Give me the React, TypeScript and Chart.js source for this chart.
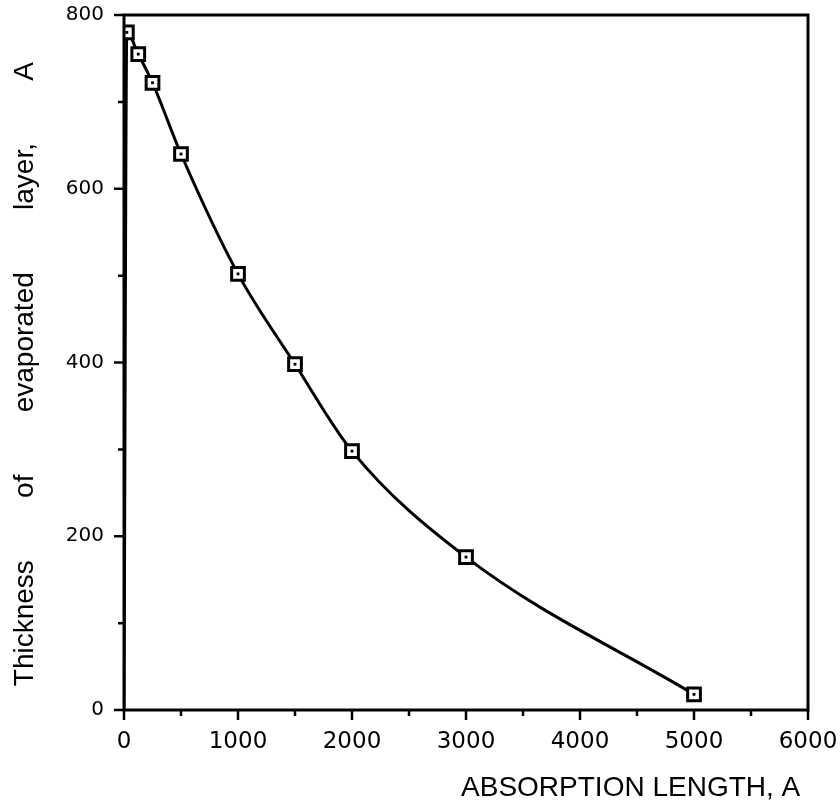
import { useEffect, useRef } from "react";
import { Chart, registerables } from "chart.js";

Chart.register(...registerables);

// Measured curve: evaporated layer thickness vs. absorption length (both in Å)
const absorptionLength = [0, 25, 125, 250, 500, 1000, 1500, 2000, 3000, 5000];
const layerThickness = [0, 780, 755, 722, 640, 502, 398, 298, 176, 18];

// Axis ranges and tick spacing
const xRange = [0, 6000];
const yRange = [0, 800];
const xMajorStep = 1000;
const xMinorStep = 500;
const yMajorStep = 200;
const yMinorStep = 100;

const xTitle = "ABSORPTION LENGTH, A ";
const yTitle = "Thickness        of        evaporated        layer,        A   ";

const W = 840;
const H = 809;

// Frame around the plot area plus outward major/minor tick marks
const framePlugin = {
  id: "frameTicks",
  afterDraw(chart: any) {
    const { ctx, chartArea, scales } = chart;
    const { left, right, top, bottom } = chartArea;
    ctx.save();
    ctx.strokeStyle = "#000";
    ctx.lineWidth = 3;
    ctx.strokeRect(left, top, right - left, bottom - top);
    ctx.lineWidth = 2.5;
    ctx.beginPath();
    for (let v = xRange[0]; v <= xRange[1]; v += xMinorStep) {
      const px = scales.x.getPixelForValue(v);
      const len = v % xMajorStep === 0 ? 10 : 6;
      ctx.moveTo(px, bottom);
      ctx.lineTo(px, bottom + len);
    }
    for (let v = yRange[0]; v <= yRange[1]; v += yMinorStep) {
      const py = scales.y.getPixelForValue(v);
      const len = v % yMajorStep === 0 ? 10 : 6;
      ctx.moveTo(left, py);
      ctx.lineTo(left - len, py);
    }
    ctx.stroke();
    ctx.restore();
  },
};

export default function App() {
  const canvasRef = useRef<HTMLCanvasElement | null>(null);

  useEffect(() => {
    const canvas = canvasRef.current;
    if (!canvas) return;
    const points = absorptionLength.map((x, i) => ({ x, y: layerThickness[i] }));
    const markerRadius = (r: number) => (c: any) => (c.dataIndex === 0 ? 0 : r);

    const chart = new Chart(canvas, {
      type: "line",
      data: {
        datasets: [
          {
            // small dark mark inside each square marker
            data: points,
            showLine: false,
            order: 0,
            pointStyle: "rect",
            pointRadius: markerRadius(2),
            pointHoverRadius: markerRadius(2),
            pointBackgroundColor: "#000",
            pointBorderWidth: 0,
          },
          {
            data: points,
            order: 1,
            borderColor: "#000",
            borderWidth: 3,
            cubicInterpolationMode: "monotone",
            pointStyle: "rect",
            pointRadius: markerRadius(9),
            pointHoverRadius: markerRadius(9),
            pointBackgroundColor: "#fff",
            pointBorderColor: "#000",
            pointBorderWidth: 3,
          },
        ],
      },
      options: {
        responsive: false,
        animation: false,
        events: [],
        layout: { padding: { top: 15, right: 32, left: 0, bottom: 0 } },
        plugins: {
          legend: { display: false },
          tooltip: { enabled: false },
        },
        scales: {
          x: {
            type: "linear",
            min: xRange[0],
            max: xRange[1],
            border: { display: false },
            grid: { display: false, drawTicks: true, tickLength: 10 },
            ticks: {
              stepSize: xMajorStep,
              padding: 8,
              color: "#000",
              maxRotation: 0,
              autoSkip: false,
              callback: (v: any) => String(v),
              font: { family: "'DejaVu Sans', sans-serif", size: 23 },
            },
            title: {
              display: true,
              text: xTitle,
              align: "end",
              color: "#000",
              padding: { top: 0, bottom: 4 },
              font: { family: "'Liberation Sans', Arial, sans-serif", size: 28 },
            },
            afterFit(scale: any) {
              scale.height = 99;
              scale.paddingLeft = 0;
              scale.paddingRight = 0;
            },
          },
          y: {
            type: "linear",
            min: yRange[0],
            max: yRange[1],
            border: { display: false },
            grid: { display: false, drawTicks: true, tickLength: 10 },
            ticks: {
              stepSize: yMajorStep,
              padding: 10,
              color: "#000",
              callback: (v: any) => String(v),
              font: { family: "'DejaVu Sans', sans-serif", size: 20 },
            },
            title: {
              display: true,
              text: yTitle,
              color: "#000",
              padding: { top: 8, bottom: 0 },
              font: { family: "'Liberation Sans', Arial, sans-serif", size: 28 },
            },
            afterFit(scale: any) {
              scale.width = 124;
              scale.paddingTop = 0;
              scale.paddingBottom = 0;
            },
          },
        },
      },
      plugins: [framePlugin],
    });

    return () => chart.destroy();
  }, []);

  return (
    <div style={{ position: "absolute", left: 0, top: 0, width: W, height: H, background: "#fff" }}>
      <canvas ref={canvasRef} width={W} height={H} style={{ width: W, height: H, display: "block" }} />
    </div>
  );
}
